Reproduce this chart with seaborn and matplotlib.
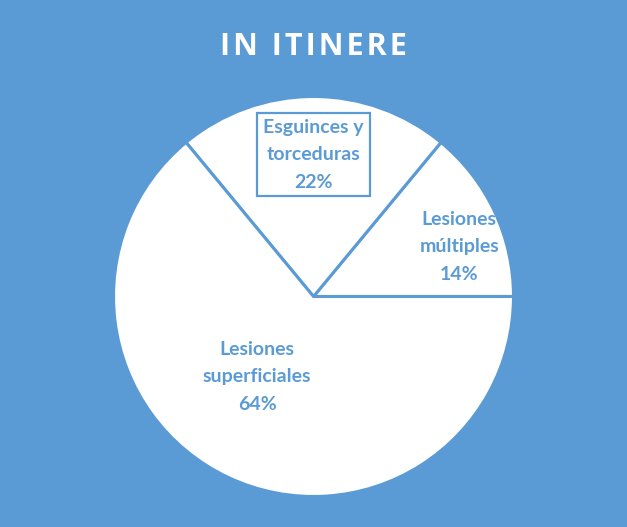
import matplotlib
matplotlib.use("Agg")
import matplotlib.pyplot as plt
import seaborn as sns
import numpy as np

sns.set_theme(style="white")
plt.rcParams['font.family'] = ['Lato', 'DejaVu Sans']

categories = ["Lesiones\nmúltiples", "Esguinces y\ntorceduras", "Lesiones\nsuperficiales"]
values = [14, 22, 64]
title = "IN ITINERE"

blue = "#5B9BD5"

fig = plt.figure(figsize=(6.27, 5.27), dpi=100)
fig.patch.set_facecolor(blue)
W, H = 627, 527
cx, cy, r = 313.5, 296.5, 200
ax = fig.add_axes([(cx - r) / W, (H - cy - r) / H, 2 * r / W, 2 * r / H])
ax.set_facecolor(blue)

wedges, _ = ax.pie(values, startangle=0, counterclock=True, colors=["white"] * 3,
                   wedgeprops=dict(edgecolor=blue, linewidth=2.2))
ax.set_xlim(-1, 1)
ax.set_ylim(-1, 1)
ax.set_aspect("equal")
ax.axis("off")

# label placement (radius fraction, angle deg) per slice
dist = [0.77, 0.71, 0.49]
angoff = [-6.4, 0, -9.8]
cum = np.cumsum([0] + values)
for i, (lab, v) in enumerate(zip(categories, values)):
    mid = (cum[i] + cum[i + 1]) / 2 / 100 * 360 + angoff[i]
    x = dist[i] * np.cos(np.radians(mid))
    y = dist[i] * np.sin(np.radians(mid))
    kw = {}
    if i == 1:
        kw["bbox"] = dict(boxstyle="square,pad=0.3", facecolor="white", edgecolor=blue, linewidth=1.6)
    ax.text(x, y, f"{lab}\n{v}%", ha="center", va="center", color=blue,
            fontsize=14, fontweight="bold", linespacing=1.75, **kw)

fig.text(cx / W, 1 - 47 / H, "\u200a".join(title), ha="center", va="center", color="white",
         fontsize=22, fontweight="bold", family=["Open Sans", "DejaVu Sans"])

fig.savefig("out.png", dpi=100, facecolor=blue)
